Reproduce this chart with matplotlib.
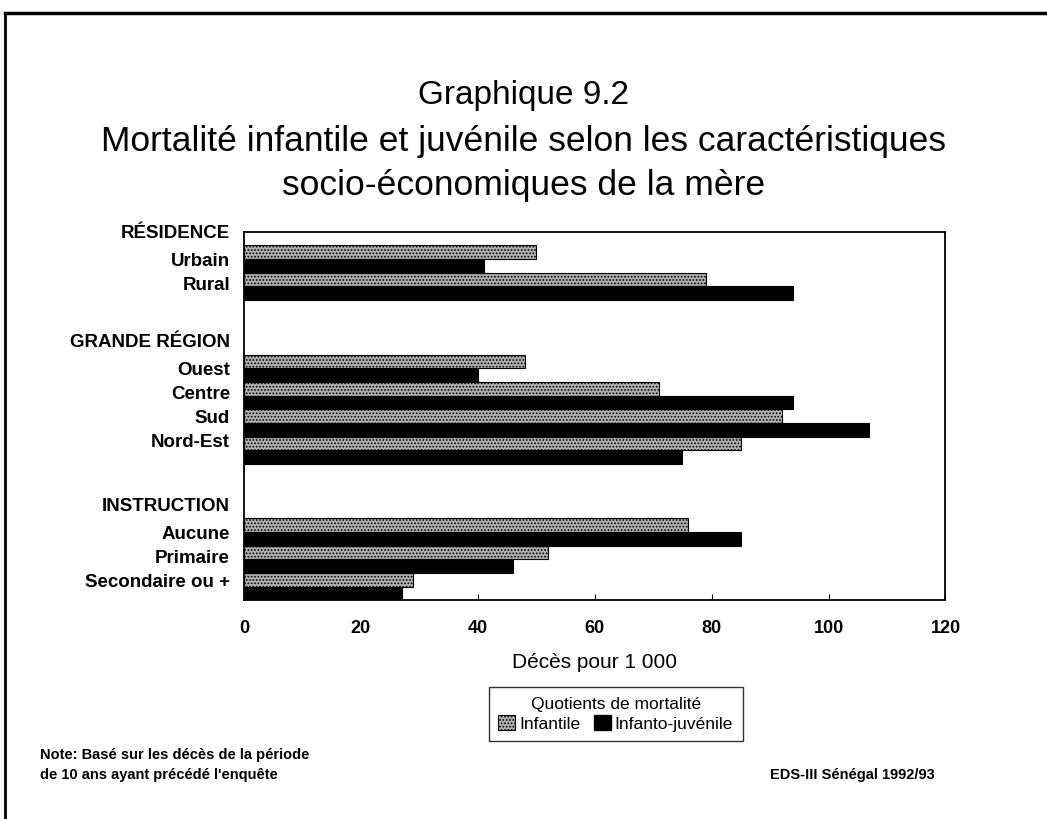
import matplotlib
matplotlib.use("Agg")
import matplotlib.pyplot as plt
from matplotlib.lines import Line2D
from matplotlib.patches import Patch
import numpy as np

plt.rcParams['font.family'] = ['Liberation Sans', 'DejaVu Sans']
plt.rcParams['hatch.color'] = '#4a4a4a'
plt.rcParams['hatch.linewidth'] = 0.8

# Données (lignes vides / en-têtes = None)
categories = ["RÉSIDENCE", "Urbain", "Rural", "",
              "GRANDE RÉGION", "Ouest", "Centre", "Sud", "Nord-Est", "",
              "INSTRUCTION", "Aucune", "Primaire", "Secondaire ou +"]
infantile = [None, 50, 79, None, None, 48, 71, 92, 85, None, None, 76, 52, 29]
infanto_juvenile = [None, 41, 94, None, None, 40, 94, 107, 75, None, None, 85, 46, 27]
xticks = [0, 20, 40, 60, 80, 100, 120]

fig = plt.figure(figsize=(10.47, 8.19), dpi=100)
ax = fig.add_axes([0.233, 0.267, 0.670, 0.450])

y = np.arange(len(categories))
idx = [i for i, v in enumerate(infantile) if v is not None]
h = 0.5

ax.barh([y[i] - h / 2 for i in idx], [infantile[i] for i in idx], height=h,
        color='#b0b0b0', hatch='.....', edgecolor='black', linewidth=0.8,
        label='Infantile')
ax.barh([y[i] + h / 2 for i in idx], [infanto_juvenile[i] for i in idx], height=h,
        color='black', edgecolor='black', linewidth=0.8,
        label='Infanto-juvénile')

# les libellés d'un groupe sont un peu plus serrés que les barres
label_pos = []
start = 0
for i, v in enumerate(infantile):
    if v is None:
        start = i
        label_pos.append(float(i))
    else:
        label_pos.append(start + 1 + (i - start - 1) * 0.88)

ax.set_ylim(len(categories) - 0.5, 0)
ax.set_xlim(0, 120)
ax.set_yticks(label_pos)
ax.set_yticklabels(categories, fontsize=13.5, fontweight='bold')
ax.set_xticks(xticks)
ax.set_xticklabels([str(t) for t in xticks], fontsize=13, fontweight='bold')
ax.tick_params(axis='y', length=0, pad=10)
ax.tick_params(axis='x', length=4, direction='in', pad=14)
for s in ax.spines.values():
    s.set_linewidth(1.3)

ax.set_xlabel("Décès pour 1 000", fontsize=15, labelpad=12)

# Titre
fig.text(0.5, 0.883, "Graphique 9.2", ha='center', va='center', fontsize=24)
fig.text(0.5, 0.827, "Mortalité infantile et juvénile selon les caractéristiques",
         ha='center', va='center', fontsize=25.5)
fig.text(0.5, 0.773, "socio-économiques de la mère", ha='center', va='center', fontsize=25.5)

# Légende
handles = [Patch(facecolor='#b0b0b0', hatch='.....', edgecolor='black', linewidth=0.8),
           Patch(facecolor='black', edgecolor='black')]
leg = fig.legend(handles, ['Infantile', 'Infanto-juvénile'], ncol=2,
                 title='Quotients de mortalité', title_fontsize=12.5, fontsize=12.5,
                 loc='center', bbox_to_anchor=(0.588, 0.128),
                 frameon=True, fancybox=False, edgecolor='black',
                 handlelength=1.0, handleheight=0.9, handletextpad=0.2,
                 columnspacing=0.8, borderpad=0.55, labelspacing=0.2)
leg.get_frame().set_linewidth(1.0)

# Notes
fig.text(0.038, 0.045, "Note: Basé sur les décès de la période\nde 10 ans ayant précédé l'enquête",
         ha='left', va='bottom', fontsize=10.5, fontweight='bold', linespacing=1.6)
fig.text(0.893, 0.045, "EDS-III Sénégal 1992/93", ha='right', va='bottom',
         fontsize=10.5, fontweight='bold')

# Cadre extérieur (haut et gauche)
fig.add_artist(Line2D([0.005, 1.0], [0.984, 0.984], color='black', linewidth=2.5,
                      transform=fig.transFigure))
fig.add_artist(Line2D([0.005, 0.005], [0.0, 0.984], color='black', linewidth=2.0,
                      transform=fig.transFigure))

fig.savefig("out.png", dpi=100)
